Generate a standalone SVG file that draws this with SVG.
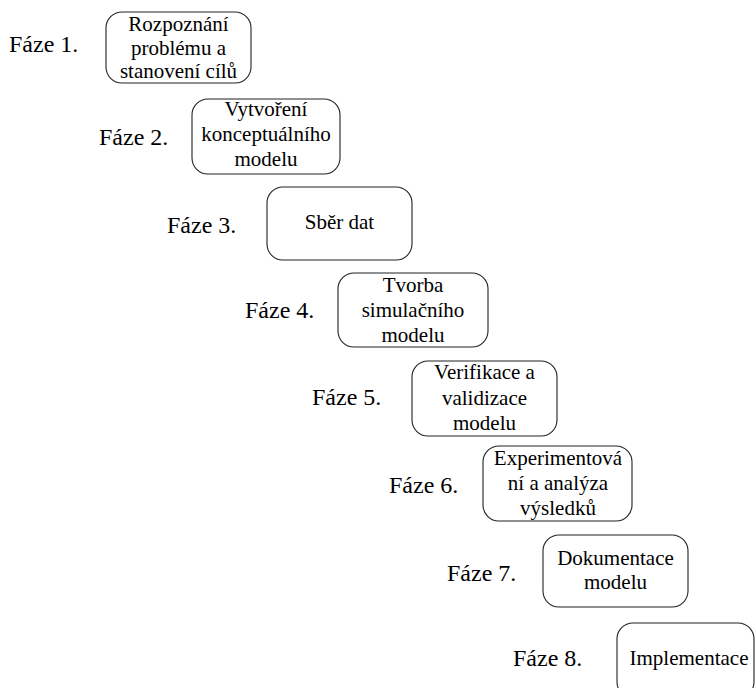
<svg xmlns="http://www.w3.org/2000/svg" width="756" height="688" viewBox="0 0 756 688">
<rect width="756" height="688" fill="#fff"/>
<g id="connectors"></g>
<g id="phase1">
<text font-family="serif" font-size="24" x="9" y="52">Fáze 1.</text>
<rect x="106" y="12" width="145" height="71" rx="16" fill="#fff" stroke="#222" stroke-width="1.1"/>
<text font-family="serif" font-size="21" text-anchor="middle" x="178.5" y="31">Rozpoznání</text>
<text font-family="serif" font-size="21" text-anchor="middle" x="178.5" y="55">problému a</text>
<text font-family="serif" font-size="21" text-anchor="middle" x="178.5" y="78">stanovení cílů</text>
</g>
<g id="phase2">
<text font-family="serif" font-size="24" x="99" y="145">Fáze 2.</text>
<rect x="192" y="99" width="148" height="75" rx="16" fill="#fff" stroke="#222" stroke-width="1.1"/>
<text font-family="serif" font-size="21" text-anchor="middle" x="266" y="116">Vytvoření</text>
<text font-family="serif" font-size="21" text-anchor="middle" x="266" y="141">konceptuálního</text>
<text font-family="serif" font-size="21" text-anchor="middle" x="266" y="166">modelu</text>
</g>
<g id="phase3">
<text font-family="serif" font-size="24" x="167" y="233">Fáze 3.</text>
<rect x="267" y="187" width="145" height="73" rx="16" fill="#fff" stroke="#222" stroke-width="1.1"/>
<text font-family="serif" font-size="21" text-anchor="middle" x="339.5" y="229">Sběr dat</text>
</g>
<g id="phase4">
<text font-family="serif" font-size="24" x="245" y="318">Fáze 4.</text>
<rect x="338" y="273" width="150" height="74" rx="16" fill="#fff" stroke="#222" stroke-width="1.1"/>
<text font-family="serif" font-size="21" text-anchor="middle" x="413" y="292">Tvorba</text>
<text font-family="serif" font-size="21" text-anchor="middle" x="413" y="317">simulačního</text>
<text font-family="serif" font-size="21" text-anchor="middle" x="413" y="342">modelu</text>
</g>
<g id="phase5">
<text font-family="serif" font-size="24" x="312" y="405">Fáze 5.</text>
<rect x="412" y="361" width="145" height="75" rx="16" fill="#fff" stroke="#222" stroke-width="1.1"/>
<text font-family="serif" font-size="21" text-anchor="middle" x="484.5" y="379">Verifikace a</text>
<text font-family="serif" font-size="21" text-anchor="middle" x="484.5" y="405">validizace</text>
<text font-family="serif" font-size="21" text-anchor="middle" x="484.5" y="430">modelu</text>
</g>
<g id="phase6">
<text font-family="serif" font-size="24" x="389" y="493">Fáze 6.</text>
<rect x="483" y="446" width="149" height="75" rx="16" fill="#fff" stroke="#222" stroke-width="1.1"/>
<text font-family="serif" font-size="21" text-anchor="middle" x="558" y="465">Experimentová</text>
<text font-family="serif" font-size="21" text-anchor="middle" x="558" y="490">ní a analýza</text>
<text font-family="serif" font-size="21" text-anchor="middle" x="558" y="515">výsledků</text>
</g>
<g id="phase7">
<text font-family="serif" font-size="24" x="447" y="581">Fáze 7.</text>
<rect x="543" y="535" width="145" height="72" rx="16" fill="#fff" stroke="#222" stroke-width="1.1"/>
<text font-family="serif" font-size="21" text-anchor="middle" x="615.5" y="565">Dokumentace</text>
<text font-family="serif" font-size="21" text-anchor="middle" x="615.5" y="589">modelu</text>
</g>
<g id="phase8">
<text font-family="serif" font-size="24" x="513" y="666">Fáze 8.</text>
<rect x="617" y="623" width="137" height="75" rx="16" fill="#fff" stroke="#222" stroke-width="1.1"/>
<text font-family="serif" font-size="21" text-anchor="middle" x="689" y="665">Implementace</text>
</g>
</svg>
